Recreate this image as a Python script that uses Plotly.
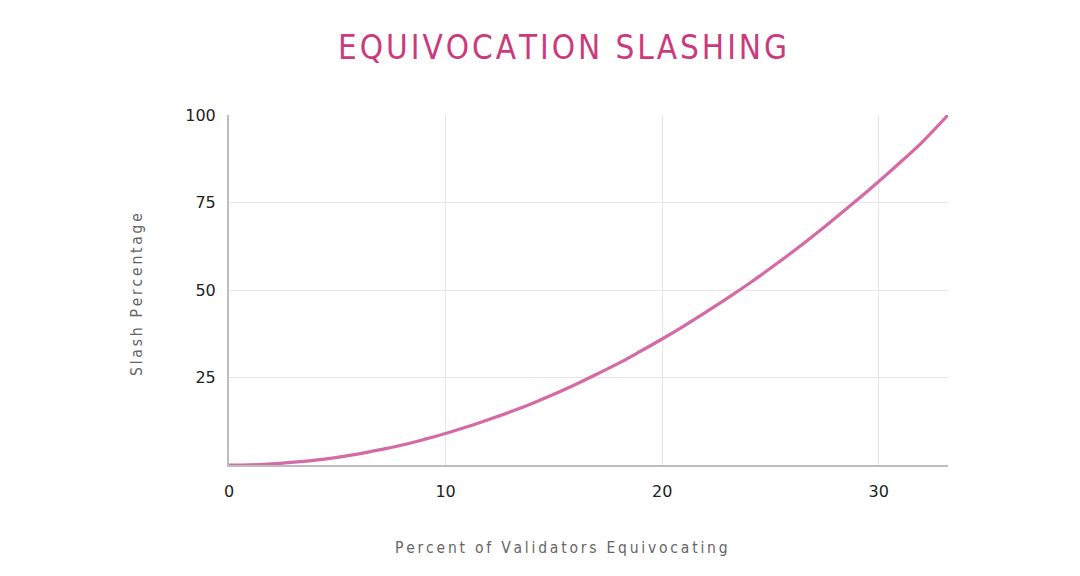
import plotly.graph_objects as go

# Data
pct_validators = [0, 1, 2, 3, 4, 5, 6, 7, 8, 9, 10, 11, 12, 13, 14, 15, 16,
                  17, 18, 19, 20, 21, 22, 23, 24, 25, 26, 27, 28, 29, 30, 31, 32, 33.2]
slash_pct = [0, 0.05, 0.3, 0.8, 1.4, 2.2, 3.2, 4.4, 5.7, 7.3, 9.0, 10.9, 13.0, 15.2,
             17.6, 20.2, 23.0, 26.0, 29.1, 32.5, 36.0, 39.7, 43.6, 47.6, 51.8, 56.2,
             60.8, 65.6, 70.6, 75.7, 81.0, 86.5, 92.2, 100]
x_ticks = [0, 10, 20, 30]
y_ticks = [25, 50, 75, 100]

title_text = "EQUIVOCATION SLASHING"
x_title = "Percent of Validators Equivocating"
y_title = "Slash Percentage"

def spaced(s, sep="\u200a"):
    return sep.join(list(s))

fig = go.Figure()
fig.add_trace(go.Scatter(
    x=pct_validators, y=slash_pct, mode="lines",
    line=dict(color="#d46aa6", width=3.2, shape="spline"),
    cliponaxis=False, hoverinfo="skip", showlegend=False))

PW, PH = 719, 350
fig.update_layout(
    width=1080, height=576,
    paper_bgcolor="white", plot_bgcolor="white",
    margin=dict(l=221, r=140, t=107, b=119),
    font=dict(family="DejaVu Sans", color="#222"),
    xaxis=dict(range=[0, 33.2], tickvals=x_ticks, ticktext=[str(v) for v in x_ticks],
               showgrid=True, gridcolor="#e6e6e6", gridwidth=1,
               showline=True, linecolor="#bdbdbd", linewidth=2,
               zeroline=False, ticks="outside", ticklen=11, tickcolor="rgba(0,0,0,0)",
               tickfont=dict(size=16, color="#222", family="DejaVu Sans"),
               ),
    yaxis=dict(range=[0, 100], tickvals=y_ticks, ticktext=[str(v) for v in y_ticks],
               showgrid=True, gridcolor="#e6e6e6", gridwidth=1,
               showline=True, linecolor="#bdbdbd", linewidth=2,
               zeroline=False, ticks="outside", ticklen=8, tickcolor="rgba(0,0,0,0)",
               tickfont=dict(size=16, color="#222", family="DejaVu Sans"),
               ),
    annotations=[
        dict(text=spaced(title_text), xref="paper", yref="paper",
             x=(562 - 229) / PW, y=1 + (115 - 48) / PH, xanchor="center", yanchor="middle",
             showarrow=False,
             font=dict(size=33, color="#cc3a7e", family="DejaVu Sans Condensed")),
        dict(text=spaced(x_title, "\u2009"), xref="paper", yref="paper",
             x=(561 - 229) / PW, y=-(548 - 465) / PH, xanchor="center", yanchor="middle",
             showarrow=False,
             font=dict(size=15.5, color="#666", family="DejaVu Sans Condensed")),
        dict(text=spaced(y_title, "\u2009"), xref="paper", yref="paper",
             x=-(229 - 137) / PW, y=(465 - 295) / PH, xanchor="center", yanchor="middle",
             textangle=-90, showarrow=False,
             font=dict(size=15.5, color="#666", family="DejaVu Sans Condensed")),
    ],
)

fig.write_html("out.html")
